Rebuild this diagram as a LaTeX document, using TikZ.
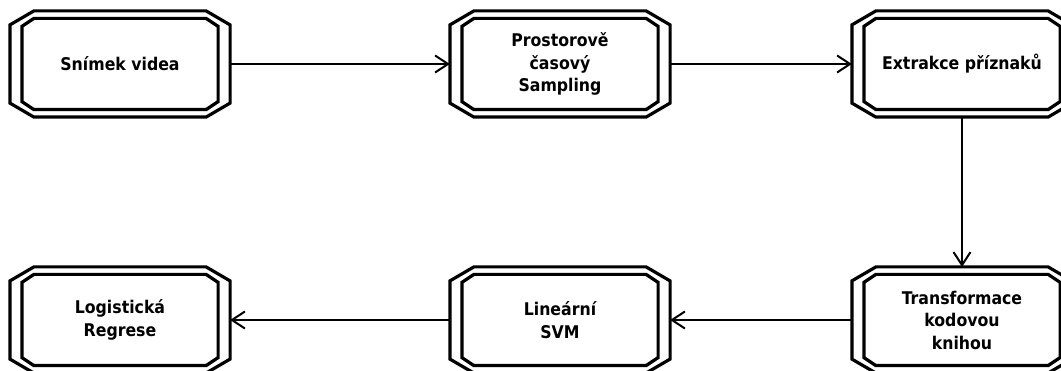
\documentclass[tikz,border=0pt]{standalone}
\usepackage{fontspec}
\setmainfont{DejaVu Sans Condensed}
\usepackage{tikz}
\usetikzlibrary{arrows.meta}

\begin{document}
\begin{tikzpicture}[->,>={Straight Barb[length=13pt,width=17pt]},line width=2pt,
                    auto,node distance=440pt]
  \tikzstyle{every node}=[rectangle,minimum width=217pt,minimum height=103pt,
    outer sep=1.6pt,inner sep=2pt,align=center,
    font=\fontsize{17.5}{22.5}\selectfont\bfseries]
  \tikzstyle{octline}=[-,line width=3.2pt,line join=miter]

  \useasboundingbox (0pt,0pt) rectangle (1061pt,-371pt);

  \node         (A) at (120pt,-64pt)                  {Snímek videa};
  \node         (B) [right of=A]                      {Prostorově\\časový\\Sampling};
  \node         (C) [right of=B,node distance=402pt]  {Extrakce příznaků};
  \node         (D) [below of=C,node distance=256pt]  {Transformace\\kodovou\\knihou};
  \node         (E) [left of=D,node distance=402pt]   {Lineární\\SVM};
  \node         (F) [left of=E]                       {Logistická\\Regrese};

% double octagon round every node
  \foreach \n in {A,B,C,D,E,F}{
    \draw[octline] ([xshift=24pt]\n.north west) -- ([xshift=-24pt]\n.north east)
      -- ([yshift=-14pt]\n.north east) -- ([yshift=14pt]\n.south east)
      -- ([xshift=-24pt]\n.south east) -- ([xshift=24pt]\n.south west)
      -- ([yshift=14pt]\n.south west) -- ([yshift=-14pt]\n.north west) -- cycle;
    \draw[octline] ([xshift=24pt,yshift=-7.5pt]\n.north west) -- ([xshift=-24pt,yshift=-7.5pt]\n.north east)
      -- ([xshift=-12pt,yshift=-15.5pt]\n.north east) -- ([xshift=-12pt,yshift=15.5pt]\n.south east)
      -- ([xshift=-24pt,yshift=7.5pt]\n.south east) -- ([xshift=24pt,yshift=7.5pt]\n.south west)
      -- ([xshift=12pt,yshift=15.5pt]\n.south west) -- ([xshift=12pt,yshift=-15.5pt]\n.north west) -- cycle;
  }

  \path (A) edge (B)
        (B) edge (C)
        (C) edge (D)
        (D) edge (E)
        (E) edge (F);

\end{tikzpicture}
\end{document}
